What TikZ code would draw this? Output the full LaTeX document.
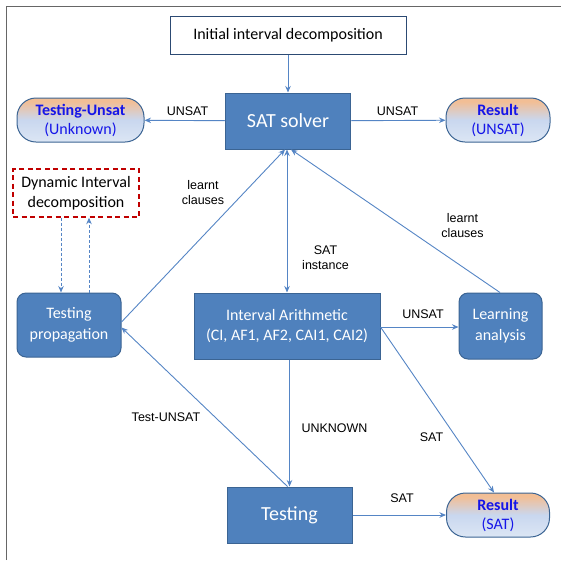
\documentclass[tikz,border=0pt]{standalone}
\usepackage{fontspec}
\setmainfont{Carlito}
\newfontfamily\labfont{Liberation Sans}
\usetikzlibrary{arrows.meta,calc}
\definecolor{boxfill}{HTML}{4F81BD}
\definecolor{boxline}{HTML}{3B6493}
\definecolor{arr}{HTML}{5585C5}
\definecolor{navy}{HTML}{2C4A73}
\definecolor{peach}{HTML}{F2BE95}
\definecolor{lblue}{HTML}{C9D7EF}
\definecolor{pblue}{HTML}{DCE6F4}
\definecolor{dred}{HTML}{C00000}
\definecolor{ptext}{HTML}{1515E8}
\newcommand{\pillbg}[3]{% center x, center y, width
  \begin{scope}
    \clip[rounded corners=19pt] (#1-#3/2,#2-22) rectangle (#1+#3/2,#2+22);
    \foreach \i in {0,...,44} {
      \pgfmathsetmacro\tt{\i/44}
      \pgfmathsetmacro\cw{min(100,max(0,(\tt-0.08)/0.42*100))}
      \pgfmathsetmacro\bw{max(0,(\tt-0.5)/0.5*100)}
      \fill[pblue!\bw!lblue!\cw!peach] (#1-#3/2,#2-22+\i) rectangle (#1+#3/2,#2-22+\i+1.3);
    }
  \end{scope}}
\begin{document}
\begin{tikzpicture}[x=1pt,y=-1pt,
  bluebox/.style={draw=boxline, fill=boxfill, line width=1pt, text=white,
    font=\fontsize{16}{20.5}\selectfont, align=center, inner sep=0pt},
  roundbox/.style={bluebox, rounded corners=9pt},
  bigtext/.style={font=\fontsize{20}{24}\selectfont},
  pill/.style={draw=boxline, line width=1pt, rounded corners=19pt,
    text=ptext, align=center, inner sep=0pt, font=\fontsize{16}{19}\selectfont,
    minimum height=44pt},
  conn/.style={draw=arr, line width=0.9pt, -{Stealth[length=6.5pt,width=5.5pt]}},
  dconn/.style={conn, dashed, dash pattern=on 3pt off 2pt},
  lbl/.style={font=\labfont\fontsize{12.5}{15}\selectfont, align=center, inner sep=0pt, text=black}]
\useasboundingbox (0,0) rectangle (561,560);
\draw[black!60, line width=1.8pt] (6.5,560) -- (6.5,6.5) -- (561,6.5);

\pillbg{80.5}{120}{127}
\pillbg{498}{120}{104}
\pillbg{498}{515}{103}

\node[draw=navy, fill=white, line width=1pt, minimum width=236pt, minimum height=38pt,
  inner sep=0pt, font=\fontsize{16}{20}\selectfont] (init) at (288,35) {Initial interval decomposition};
\node[bluebox, bigtext, minimum width=125pt, minimum height=56pt] (sat) at (288,121) {SAT solver};
\node[pill, minimum width=127pt] (tu) at (80.5,120) {\textbf{Testing-Unsat}\\(Unknown)};
\node[pill, minimum width=104pt] (ru) at (498,120) {\textbf{Result}\\(UNSAT)};
\node[draw=dred, line width=1.4pt, dash pattern=on 5pt off 3.5pt, minimum width=126pt, minimum height=48pt,
  align=center, inner sep=0pt, font=\fontsize{16}{20.5}\selectfont] (dyn) at (76,193) {Dynamic Interval\\decomposition};
\node[roundbox, minimum width=104pt, minimum height=64pt] (tp) at (69,325) {Testing\\propagation};
\node[bluebox, minimum width=186pt, minimum height=66pt] (ia) at (287,326) {Interval Arithmetic\\(CI, AF1, AF2, CAI1, CAI2)};
\node[roundbox, minimum width=83pt, minimum height=66pt] (la) at (500.5,326) {Learning\\analysis};
\node[bluebox, bigtext, minimum width=125pt, minimum height=56pt] (tst) at (289.5,515) {Testing};
\node[pill, minimum width=103pt] (rs) at (498,515) {\textbf{Result}\\(SAT)};

% connectors
\draw[conn] (init) -- (sat);
\draw[conn] (sat) -- (tu);
\draw[conn] (sat) -- (ru);
\draw[conn, {Stealth[length=6.5pt,width=5.5pt]}-{Stealth[length=6.5pt,width=5.5pt]}] (sat.south -| 287,0) -- (ia.north -| 287,0);
\draw[conn] ([yshift=3pt]tp.east) -- ([xshift=-3pt]sat.south);
\draw[conn] ([xshift=-0.5pt]la.north) -- ([xshift=3pt]sat.south);
\draw[conn] ([yshift=-1pt]ia.east) -- (la.west |- 0,327);
\draw[conn] ([yshift=-1pt]ia.east) -- ([xshift=-4pt]rs.north);
\draw[conn] (tst.north |- ia.south) -- (tst.north);
\draw[conn] ([xshift=-2pt]tst.north) -- ([yshift=-2.5pt]tp.east);
\draw[conn] (tst) -- (rs);
\draw[dconn] (dyn.south -| 61,0) -- (tp.north -| 61,0);
\draw[dconn] (tp.north -| 89,0) -- (dyn.south -| 89,0);

% labels
\node[lbl] (l1) at (187.5,111) {UNSAT};
\node[lbl] (l2) at (397.5,111) {UNSAT};
\node[lbl] (l3) at (203,193) {learnt\\clauses};
\node[lbl] (l4) at (325.5,257.5) {SAT\\instance};
\node[lbl] (l5) at (462.5,226) {learnt\\clauses};
\node[lbl] (l6) at (423,314) {UNSAT};
\node[lbl] (l7) at (166,417) {Test-UNSAT};
\node[lbl] (l8) at (334.5,428) {UNKNOWN};
\node[lbl] (l9) at (431.5,437) {SAT};
\node[lbl] (l10) at (402,498) {SAT};
\end{tikzpicture}
\end{document}
